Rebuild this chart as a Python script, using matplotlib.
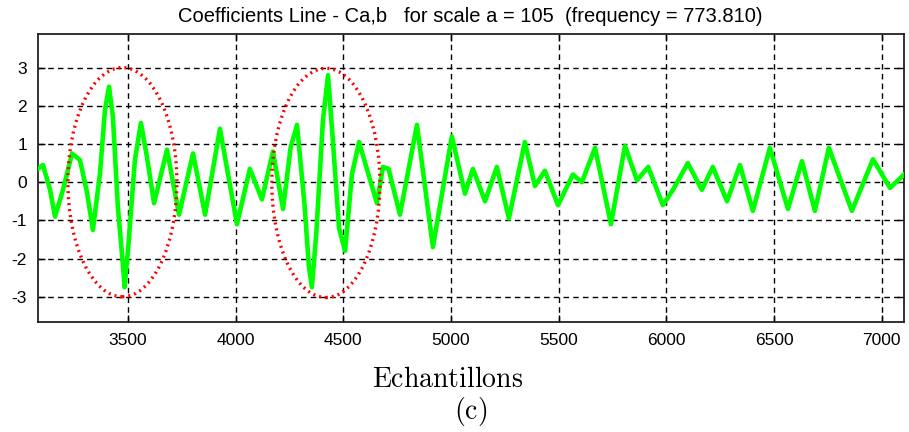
import matplotlib
matplotlib.use("Agg")
import matplotlib.pyplot as plt
from matplotlib.patches import Ellipse

# ---- data ----
samples = [3082, 3105, 3138, 3161, 3198, 3240, 3277, 3310, 3337, 3370, 3393, 3412,
           3430, 3453, 3477, 3484, 3500, 3532, 3560, 3588, 3621, 3681,
           3737, 3802, 3858, 3927, 4006, 4066, 4122, 4173, 4220, 4255, 4285, 4320,
           4340, 4354, 4375, 4405, 4429, 4450, 4480, 4508, 4540, 4573, 4656, 4684,
           4710, 4763, 4842, 4916, 5004, 5065, 5102, 5158,
           5213, 5269, 5343, 5390, 5436, 5497, 5566, 5608, 5669, 5743, 5808, 5864,
           5916, 5984, 6031, 6100, 6165, 6216, 6282, 6342, 6402, 6481, 6565, 6630,
           6690, 6755, 6862, 6960, 7039, 7104]
coefs = [0.35, 0.45, -0.2, -0.9, -0.2, 0.75, 0.58, -0.28, -1.25, 0.24, 1.89, 2.5,
         1.7, -0.65, -2.2, -2.75, -1.78, 0.58, 1.55, 0.66, -0.55, 0.85,
         -0.85, 0.75, -0.85, 1.4, -1.1, 0.35, -0.45, 0.8, -0.7, 0.9, 1.5, -0.6,
         -2.2, -2.75, -1.3, 1.6, 2.8, 1.2, -1.2, -1.8, 0.2, 1.05, -0.55, 0.4,
         0.35, -0.85, 1.5, -1.7, 1.2, -0.3, 0.35, -0.5,
         0.4, -0.95, 1.05, -0.1, 0.3, -0.6, 0.2, 0.0, 0.9, -1.1, 0.95, 0.05,
         0.4, -0.6, -0.2, 0.5, -0.2, 0.4, -0.5, 0.45, -0.75, 0.9, -0.7, 0.55,
         -0.75, 0.9, -0.75, 0.6, -0.15, 0.2]

# highlighted regions: (center x, center y, width, height)
ellipse_centers_x = [3474, 4419]
ellipse_centers_y = [0.0, -0.02]
ellipse_widths = [506, 502]
ellipse_heights = [6.0, 6.0]

x_ticks = [3500, 4000, 4500, 5000, 5500, 6000, 6500, 7000]
y_ticks = [-3, -2, -1, 0, 1, 2, 3]

title = "Coefficients Line - Ca,b   for scale a = 105  (frequency = 773.810)"
xlabel = "Echantillons"
caption = "(c)"

plt.rcParams['mathtext.fontset'] = 'cm'

fig = plt.figure(figsize=(9.09, 4.32), dpi=100)
ax = fig.add_axes([38/909, 1-322/432, (904-38)/909, (322-34)/432])

ax.plot(samples, coefs, color='#00ff00', lw=3.3, solid_joinstyle='round', zorder=3)

for cx, cy, w, h in zip(ellipse_centers_x, ellipse_centers_y, ellipse_widths, ellipse_heights):
    e = Ellipse((cx, cy), w, h, fill=False, edgecolor='#ff0000', lw=2.4,
                linestyle=(0, (0.6, 1.2)), zorder=4)
    ax.add_patch(e)

ax.set_xlim(3082, 7104)
ax.set_ylim(-3.66, 3.88)
ax.set_xticks(x_ticks)
ax.set_yticks(y_ticks)
ax.set_xticklabels([str(t) for t in x_ticks], fontfamily='Liberation Sans', fontsize=12.5)
ax.set_yticklabels([str(t) for t in y_ticks], fontfamily='Liberation Sans', fontsize=12.5)
ax.tick_params(direction='in', length=5, width=1, top=True, right=True, pad=8,
               colors='black')
ax.grid(True, color='black', linestyle=(0, (4, 3)), lw=1.0)
for s in ax.spines.values():
    s.set_linewidth(1.3)
    s.set_color('#222222')

fig.text(0.517, 1-16/432, title, ha='center', va='center',
         fontfamily='Liberation Sans', fontsize=14.5)
fig.text(0.492, 1-379/432, r'$\mathrm{' + xlabel + '}$', ha='center', va='center', fontsize=20)
fig.text(0.518, 1-412/432, r'$\mathrm{' + caption + '}$', ha='center', va='center', fontsize=20)

fig.savefig('out.png', dpi=100)
